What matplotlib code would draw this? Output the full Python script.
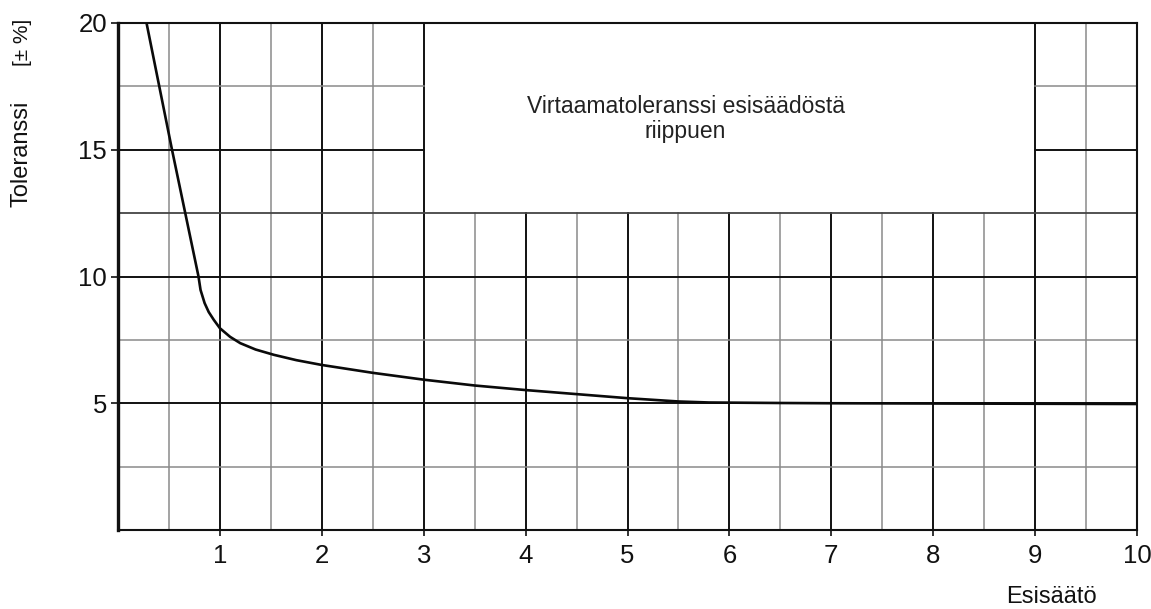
import matplotlib
matplotlib.use("Agg")
import matplotlib.pyplot as plt
import numpy as np

# ---- data ----
esisaato = [0.28, 0.40, 0.53, 0.66, 0.79, 0.81, 0.85, 0.89, 0.94, 1.00, 1.10, 1.20,
            1.35, 1.53, 1.75, 2.00, 2.50, 3.00, 3.50, 4.00, 4.50, 5.00, 5.50, 5.80,
            6.50, 7.00, 8.00, 9.00, 10.00]
toleranssi = [20.0, 17.6, 15.0, 12.5, 10.0, 9.47, 8.95, 8.6, 8.29, 7.96, 7.62, 7.37,
              7.12, 6.91, 6.70, 6.51, 6.20, 5.93, 5.70, 5.52, 5.36, 5.20, 5.07, 5.03,
              5.01, 5.00, 4.99, 4.98, 4.97]
x_ticks = [1, 2, 3, 4, 5, 6, 7, 8, 9, 10]
x_tick_labels = ["1", "2", "3", "4", "5", "6", "7", "8", "9", "10"]
y_ticks = [5, 10, 15, 20]
y_tick_labels = ["5", "10", "15", "20"]
box_text_1 = "Virtaamatoleranssi esisäädöstä"
box_text_2 = "riippuen"
y_label = "Toleranssi"
y_unit = "[± %]"
x_label = "Esisäätö"

# grid / box layout (styling)
xmin, xmax, ymin, ymax = 0, 10, 0, 20
box_x0, box_x1, box_y0 = 3.0, 9.0, 12.5

W, H, DPI = 1151, 609, 100
fig = plt.figure(figsize=(W / DPI, H / DPI), dpi=DPI, facecolor="white")
ax = fig.add_axes([118 / W, 1 - 530 / H, (1137 - 118) / W, (530 - 23) / H])
ax.set_xlim(xmin, xmax)
ax.set_ylim(ymin, ymax)
ax.set_facecolor("white")

major_c, minor_c = "#111111", "#8a8a8a"
# vertical grid lines every 0.5
for xv in np.arange(0.5, 10.0, 0.5):
    is_major = abs(xv - round(xv)) < 1e-9
    col = major_c if is_major else minor_c
    lw = 1.4 if is_major else 1.1
    if box_x0 < xv < box_x1:
        ax.plot([xv, xv], [ymin, box_y0], color=col, lw=lw, zorder=1)
    else:
        ax.plot([xv, xv], [ymin, ymax], color=col, lw=lw, zorder=1)
# horizontal grid lines every 2.5
for yv in np.arange(2.5, 20.0, 2.5):
    is_major = abs(yv / 5 - round(yv / 5)) < 1e-9
    col = major_c if is_major else minor_c
    lw = 1.4 if is_major else 1.1
    if yv == box_y0:
        ax.plot([xmin, xmax], [yv, yv], color="#444444", lw=1.3, zorder=1)
    elif yv > box_y0:
        ax.plot([xmin, box_x0], [yv, yv], color=col, lw=lw, zorder=1)
        ax.plot([box_x1, xmax], [yv, yv], color=col, lw=lw, zorder=1)
    else:
        ax.plot([xmin, xmax], [yv, yv], color=col, lw=lw, zorder=1)

# curve
ax.plot(esisaato, toleranssi, color="#0a0a0a", lw=1.9, zorder=3,
        solid_capstyle="round", solid_joinstyle="round")

# box text
ax.text(5.57, 16.46, box_text_1, ha="center", va="baseline",
        family="Liberation Sans", fontsize=16.5, color="#222222")
ax.text(5.57, 15.45, box_text_2, ha="center", va="baseline",
        family="Liberation Sans", fontsize=16.5, color="#222222")

# spines
for s in ["top", "right", "bottom"]:
    ax.spines[s].set_linewidth(1.5)
    ax.spines[s].set_color("#111111")
ax.spines["left"].set_linewidth(2.4)
ax.spines["left"].set_color("#111111")

tick_font = dict(family="Liberation Sans", size=18.5)
ax.set_xticks(x_ticks)
ax.set_xticklabels(x_tick_labels, fontdict=tick_font)
ax.set_yticks(y_ticks)
ax.set_yticklabels(y_tick_labels, fontdict=tick_font)
ax.tick_params(axis="x", direction="out", length=4, width=1.2, pad=6, colors="#111111")
ax.tick_params(axis="y", direction="out", length=5, width=1.2, pad=3, colors="#111111")

# labels
fig.text(22 / W, 1 - 154 / H, y_label, rotation=90, ha="center", va="center",
         family="Liberation Sans", fontsize=17, color="#111111")
fig.text(23 / W, 1 - 42 / H, y_unit, rotation=90, ha="center", va="center",
         family="Liberation Sans", fontsize=15, color="#111111")
fig.text(1051 / W, 1 - 597 / H, x_label, ha="center", va="center",
         family="Liberation Sans", fontsize=17, color="#111111")

fig.savefig("out.png", dpi=DPI, facecolor="white")
